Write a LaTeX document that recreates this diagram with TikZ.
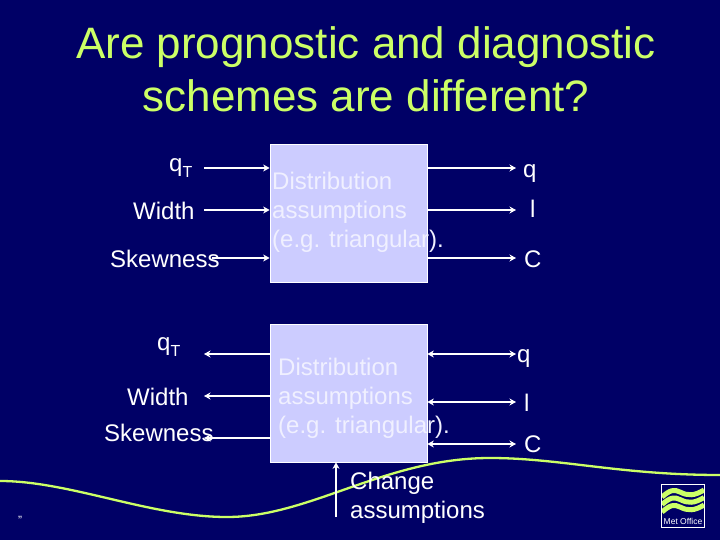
\documentclass[tikz,border=0pt]{standalone}
\usepackage{fontspec}
\setmainfont{Liberation Sans}
\definecolor{bgnavy}{HTML}{000066}
\definecolor{lime}{HTML}{CCFF66}
\definecolor{boxfill}{HTML}{CCCCFF}
\definecolor{boxtext}{HTML}{F0F0FF}
\usetikzlibrary{arrows.meta}
\tikzset{
  lab/.style={anchor=base west,inner sep=0pt,text=white,font=\fontsize{24}{24}\selectfont},
  boxlab/.style={anchor=base west,inner sep=0pt,text=boxtext,align=left,font=\fontsize{24}{29}\selectfont},
  titlelab/.style={anchor=base,inner sep=0pt,text=lime,font=\fontsize{44}{44}\selectfont},
  panel/.style={draw=white,line width=0.7pt,fill=boxfill,inner sep=0pt,minimum width=157pt,minimum height=138pt},
  conn/.style={draw=white,line width=2pt,-{Stealth[length=6.5pt,width=7pt]}},
  conn2/.style={draw=white,line width=2pt,{Stealth[length=6.5pt,width=7pt]}-{Stealth[length=6.5pt,width=7pt]}}
}
\begin{document}
\begin{tikzpicture}[x=1pt,y=-1pt]
\path[use as bounding box,fill=bgnavy] (0,0) rectangle (720,540);
% wave
\draw[lime,line width=2.3pt] (0,481) .. controls (70,481) and (150,517) .. (227,517) .. controls (310,517) and (385,458) .. (490,458) .. controls (560,458) and (620,475) .. (720,475);
% title
\node[titlelab] (t1) at (366,59) {Are prognostic and diagnostic};
\node[titlelab] (t2) at (366,112) {schemes are different?};
% panels
\node[panel] (b1) at (348.5,213) {};
\node[panel] (b2) at (348.5,393) {};
% top left labels
\node[lab] (a1) at (169,171.5) {q\raisebox{-6pt}{\fontsize{16}{16}\selectfont T}};
\node[lab] (a2) at (133,219) {Width};
\node[lab] (a3) at (110,267) {Skewness};
% top right labels
\node[lab] (r1) at (523,177.5) {q};
\node[lab] (r2) at (530,218) {l};
\node[lab] (r3) at (524,267) {C};
% bottom left labels
\node[lab] (c1) at (157,350) {q\raisebox{-6pt}{\fontsize{16}{16}\selectfont T}};
\node[lab] (c2) at (127,405) {Width};
\node[lab] (c3) at (104,441) {Skewness};
% bottom right labels
\node[lab] (s1) at (517,362) {q};
\node[lab] (s2) at (524,411) {l};
\node[lab] (s3) at (524,452) {C};
% box texts
\node[boxlab] (d1) at (272,189.5) {Distribution};
\node[boxlab] (d1b) at (272,218.5) {assumptions};
\node[boxlab] (d1c) at (272,247.5) {(e.g. triangular).};
\node[boxlab] (d2) at (278,375) {Distribution};
\node[boxlab] (d2b) at (278,404) {assumptions};
\node[boxlab] (d2c) at (278,433) {(e.g. triangular).};
\node[lab] (ch1) at (350,489) {Change};
\node[lab] (ch2) at (350,518) {assumptions};
% free ends
\foreach \n/\x/\y in {p1/204/168,p2/204/210,p3/212/258,p4/516/168,p5/516/210,p6/516/258,
  q1/204/354,q2/204/396,q3/204/438,q4/516/354,q5/516/402,q6/516/444,u0/336/517}{
  \coordinate (\n) at (\x,\y);
}
% top connectors
\draw[conn] (p1) -- (b1.west |- p1);
\draw[conn] (p2) -- (b1.west |- p2);
\draw[conn] (p3) -- (b1.west |- p3);
\draw[conn] (b1.east |- p4) -- (p4);
\draw[conn] (b1.east |- p5) -- (p5);
\draw[conn] (b1.east |- p6) -- (p6);
% bottom connectors
\draw[conn] (b2.west |- q1) -- (q1);
\draw[conn] (b2.west |- q2) -- (q2);
\draw[conn] (b2.west |- q3) -- (q3);
\draw[conn2] (b2.east |- q4) -- (q4);
\draw[conn2] (b2.east |- q5) -- (q5);
\draw[conn2] (b2.east |- q6) -- (q6);
\draw[conn] (u0) -- (u0 |- b2.south);
% footnote mark
\node[anchor=base west,inner sep=0pt,text=white,font=\fontsize{12}{12}\selectfont] (fn) at (18,524) {”};
% logo
\node[draw=white,line width=0.8pt,fill=bgnavy,inner sep=0pt,minimum width=43pt,minimum height=43pt] (logo) at (683,505.5) {};
\begin{scope}
\clip (662,485) rectangle (704,514);
\foreach \d in {0,7.5,15}{
  \draw[lime,line width=5pt] (662,\d+497) .. controls (670,\d+490) and (674,\d+489) .. (680,\d+492) .. controls (688,\d+496) and (694,\d+496) .. (704,\d+490);
}
\end{scope}
\node[anchor=base,inner sep=0pt,text=white,font=\fontsize{8.5}{8.5}\selectfont] (logot) at (683,524.5) {Met Office};
\end{tikzpicture}
\end{document}
